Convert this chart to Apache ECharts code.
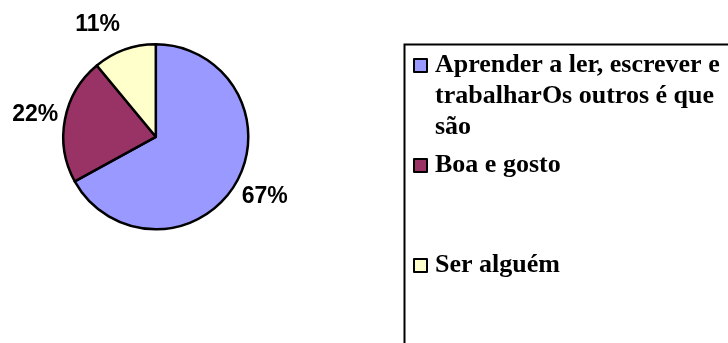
<!DOCTYPE html>
<html>
<head>
<meta charset="utf-8">
<script src="https://cdn.jsdelivr.net/npm/echarts@6/dist/echarts.min.js"></script>
<style>
  html, body { margin: 0; padding: 0; background: #ffffff; }
  #chart { width: 728px; height: 343px; }
</style>
</head>
<body>
<div id="chart"></div>
<script>
// Answers and their shares (percent)
const categories = [
  'Aprender a ler, escrever e trabalharOs outros é que são',
  'Boa e gosto',
  'Ser alguém'
];
const shares = [67, 22, 11];
// Legend text, broken into display lines
const legendLines = [
  ['Aprender a ler, escrever e', 'trabalharOs outros é que', 'são'],
  ['Boa e gosto'],
  ['Ser alguém']
];
const sliceColors = ['#9999FF', '#993366', '#FFFFCC'];

// Small shifts of each percentage text away from its default outside spot
const labelNudge = [[-5.6, 8.5], [6.2, -3], [3.2, -17.2]];
// Vertical centre of each legend swatch
const legendCentres = [65.5, 165.5, 265.5];

const LINE_H = 31;
const ICON = 13;
const chart = echarts.init(document.getElementById('chart'), null, { renderer: 'canvas' });

// One legend block per answer; the first line of each text sits level with its swatch
const legends = categories.map((name, i) => {
  const n = legendLines[i].length;
  const lead = n - 1;                    // blank lines above keep line 1 beside the swatch
  const total = n + lead;
  return {
    data: [name],
    orient: 'vertical',
    left: 413,
    top: legendCentres[i] - (total * LINE_H) / 2,
    padding: 0,
    itemWidth: ICON,
    itemHeight: ICON,
    itemGap: 0,
    icon: 'rect',
    selectedMode: false,
    itemStyle: { borderColor: '#000', borderWidth: 2 },
    formatter: () => '\n'.repeat(lead) + legendLines[i].join('\n'),
    textStyle: {
      fontFamily: 'Liberation Serif',
      fontWeight: 'bold',
      fontSize: 26,
      lineHeight: LINE_H,
      color: '#000',
      padding: [0, 0, 0, 3]
    }
  };
});

chart.setOption({
  animation: false,
  backgroundColor: '#ffffff',
  legend: legends,
  graphic: [{
    type: 'rect',
    left: 402,
    top: 42,
    shape: { width: 420, height: 400 },
    style: { fill: 'none', stroke: '#000', lineWidth: 2 },
    z: 0
  }],
  series: [{
    type: 'pie',
    center: [155.8, 136.8],
    radius: 92.5,
    startAngle: 90,
    clockwise: true,
    avoidLabelOverlap: false,
    label: {
      show: true,
      position: 'outside',
      formatter: '{c}%',
      overflow: 'none',
      fontFamily: 'Liberation Sans',
      fontWeight: 'bold',
      fontSize: 23,
      color: '#000'
    },
    labelLine: { show: false, length: 8, length2: 0 },
    labelLayout: (p) => ({ dx: labelNudge[p.dataIndex][0], dy: labelNudge[p.dataIndex][1] }),
    itemStyle: { borderColor: '#000', borderWidth: 2.5 },
    emphasis: { disabled: true },
    data: categories.map((name, i) => ({
      name,
      value: shares[i],
      itemStyle: { color: sliceColors[i] }
    }))
  }]
});
</script>
</body>
</html>
